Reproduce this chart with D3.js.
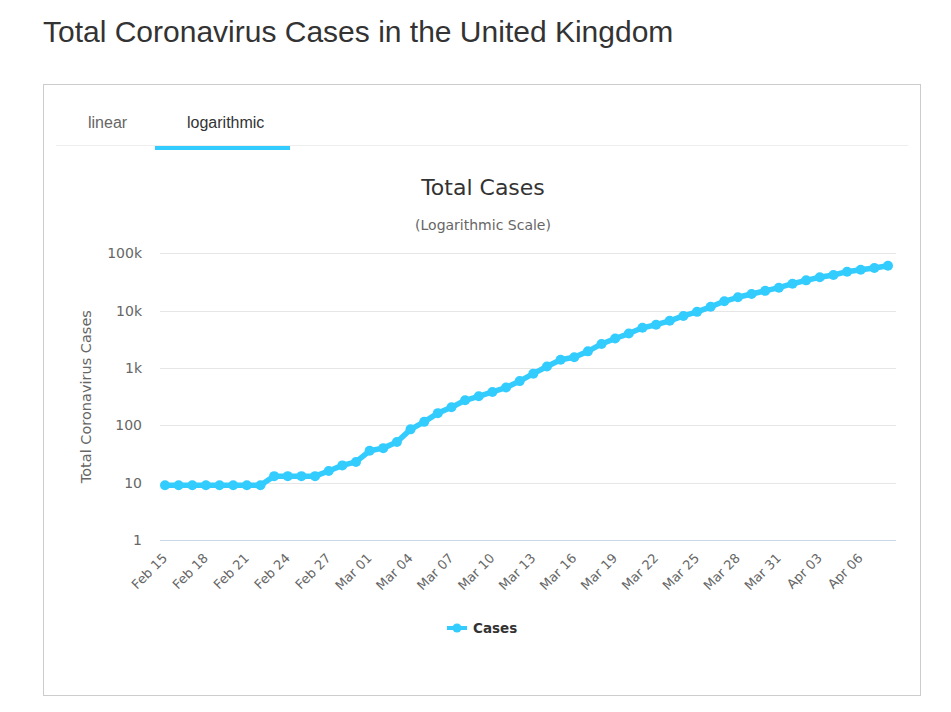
<!DOCTYPE html>
<html>
<head>
<meta charset="utf-8">
<script src="https://cdn.jsdelivr.net/npm/d3@7"></script>
<style>
  body { margin: 0; background: #fff; }
  svg { display: block; }
</style>
</head>
<body>
<div id="chart"></div>
<script>
// categories (one per day) and total cases
var dates = ["Feb 15","Feb 16","Feb 17","Feb 18","Feb 19","Feb 20","Feb 21","Feb 22","Feb 23","Feb 24",
  "Feb 25","Feb 26","Feb 27","Feb 28","Feb 29","Mar 01","Mar 02","Mar 03","Mar 04","Mar 05",
  "Mar 06","Mar 07","Mar 08","Mar 09","Mar 10","Mar 11","Mar 12","Mar 13","Mar 14","Mar 15",
  "Mar 16","Mar 17","Mar 18","Mar 19","Mar 20","Mar 21","Mar 22","Mar 23","Mar 24","Mar 25",
  "Mar 26","Mar 27","Mar 28","Mar 29","Mar 30","Mar 31","Apr 01","Apr 02","Apr 03","Apr 04",
  "Apr 05","Apr 06","Apr 07","Apr 08"];

var cases = [9, 9, 9, 9, 9, 9, 9, 9, 13, 13,
  13, 13, 16, 20, 23, 36, 40, 51, 85, 115,
  163, 206, 273, 321, 382, 456, 590, 797, 1061, 1391,
  1543, 1950, 2626, 3269, 3983, 5018, 5683, 6650, 8077, 9529,
  11658, 14543, 17089, 19522, 22141, 25150, 29474, 33718, 38168, 41903,
  47806, 51608, 55242, 60733];

var yTicks = [1, 10, 100, 1000, 10000, 100000];
var yTickLabels = ["1", "10", "100", "1k", "10k", "100k"];

var width = 951, height = 712;
var lineColor = "#33ccff";
var chartFont = "'DejaVu Sans', sans-serif";
var pageFont = "'Liberation Sans', Arial, sans-serif";

var svg = d3.select("#chart").append("svg")
  .attr("width", width)
  .attr("height", height);

// page heading
svg.append("text")
  .attr("x", 43).attr("y", 42)
  .style("font-family", pageFont)
  .style("font-size", "30px")
  .style("fill", "#333")
  .text("Total Coronavirus Cases in the United Kingdom");

// panel box
svg.append("rect")
  .attr("x", 43.5).attr("y", 84.5)
  .attr("width", 877).attr("height", 611)
  .style("fill", "none")
  .style("stroke", "#ccc");

// tabs
svg.append("line")
  .attr("x1", 56).attr("x2", 908)
  .attr("y1", 145.5).attr("y2", 145.5)
  .style("stroke", "#eee");

svg.append("text")
  .attr("x", 88).attr("y", 128)
  .style("font-family", pageFont).style("font-size", "16px")
  .style("fill", "#666")
  .text("linear");

svg.append("text")
  .attr("x", 187).attr("y", 128)
  .style("font-family", pageFont).style("font-size", "16px")
  .style("fill", "#333")
  .text("logarithmic");

svg.append("rect")
  .attr("x", 155).attr("y", 146)
  .attr("width", 135).attr("height", 4)
  .style("fill", lineColor);

// chart titles
svg.append("text")
  .attr("x", 483).attr("y", 195)
  .attr("text-anchor", "middle")
  .style("font-family", chartFont).style("font-size", "22px")
  .style("fill", "#333")
  .text("Total Cases");

svg.append("text")
  .attr("x", 483).attr("y", 230)
  .attr("text-anchor", "middle")
  .style("font-family", chartFont).style("font-size", "14px")
  .style("fill", "#666")
  .text("(Logarithmic Scale)");

// scales
var plotLeft = 160, plotRight = 896;
var xScale = d3.scaleLinear()
  .domain([0, dates.length - 1])
  .range([165, 888]);

var yScale = d3.scaleLog()
  .domain([1, 100000])
  .range([540, 253.3]);

// grid lines
svg.append("g").selectAll("line")
  .data(yTicks.slice(1))
  .enter().append("line")
  .attr("x1", plotLeft).attr("x2", plotRight)
  .attr("y1", function (d) { return Math.round(yScale(d)) + 0.5; })
  .attr("y2", function (d) { return Math.round(yScale(d)) + 0.5; })
  .style("stroke", "#e6e6e6");

// x axis line
svg.append("line")
  .attr("x1", plotLeft).attr("x2", plotRight)
  .attr("y1", 540.5).attr("y2", 540.5)
  .style("stroke", "#ccd6eb");

// y axis labels
svg.append("g").selectAll("text")
  .data(yTicks)
  .enter().append("text")
  .attr("x", 142)
  .attr("y", function (d) { return yScale(d) + 5; })
  .attr("text-anchor", "end")
  .style("font-family", chartFont).style("font-size", "14px")
  .style("fill", "#666")
  .text(function (d, i) { return yTickLabels[i]; });

// y axis title
svg.append("text")
  .attr("transform", "translate(91," + ((253.3 + 540) / 2) + ") rotate(-90)")
  .attr("text-anchor", "middle")
  .style("font-family", chartFont).style("font-size", "14.5px")
  .style("fill", "#666")
  .text("Total Coronavirus Cases");

// x axis labels, every third day
var xLabelIdx = d3.range(0, dates.length, 3);
svg.append("g").selectAll("text")
  .data(xLabelIdx)
  .enter().append("text")
  .attr("transform", function (i) {
    return "translate(" + (xScale(i) + 3) + ",559) rotate(-45)";
  })
  .attr("text-anchor", "end")
  .style("font-family", chartFont).style("font-size", "13px")
  .style("fill", "#666")
  .text(function (i) { return dates[i]; });

// the series
var line = d3.line()
  .x(function (d, i) { return xScale(i); })
  .y(function (d) { return yScale(d); });

svg.append("path")
  .datum(cases)
  .attr("d", line)
  .style("fill", "none")
  .style("stroke", lineColor)
  .style("stroke-width", 5.5)
  .style("stroke-linejoin", "round")
  .style("stroke-linecap", "round");

svg.append("g").selectAll("circle")
  .data(cases)
  .enter().append("circle")
  .attr("cx", function (d, i) { return xScale(i); })
  .attr("cy", function (d) { return yScale(d); })
  .attr("r", 5)
  .style("fill", lineColor);

// legend
var legend = svg.append("g").attr("transform", "translate(447,628)");
legend.append("line")
  .attr("x1", 0).attr("x2", 20)
  .style("stroke", lineColor).style("stroke-width", 4);
legend.append("circle")
  .attr("cx", 10).attr("r", 4.5)
  .style("fill", lineColor);
legend.append("text")
  .attr("x", 26).attr("y", 5)
  .style("font-family", chartFont).style("font-size", "13.5px")
  .style("font-weight", "bold")
  .style("fill", "#333")
  .text("Cases");
</script>
</body>
</html>
